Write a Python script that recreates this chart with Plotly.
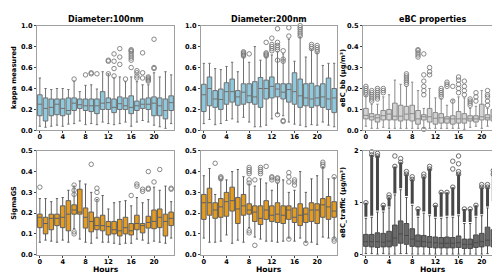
import plotly.graph_objects as go

hours = list(range(24))

# ---- Panel 1: kappa measured, Diameter 100nm ----
k100_q1 = [0.14,0.09,0.14,0.15,0.14,0.155,0.19,0.21,0.19,0.18,0.16,0.20,0.20,0.17,0.20,0.20,0.16,0.19,0.21,0.20,0.14,0.14,0.11,0.19]
k100_med = [0.25,0.21,0.22,0.25,0.21,0.19,0.26,0.245,0.235,0.235,0.235,0.26,0.265,0.22,0.255,0.235,0.22,0.235,0.25,0.25,0.26,0.235,0.19,0.265]
k100_q3 = [0.34,0.31,0.30,0.30,0.30,0.31,0.31,0.30,0.30,0.30,0.30,0.37,0.31,0.30,0.32,0.31,0.33,0.28,0.30,0.31,0.32,0.31,0.30,0.33]
k100_lo = [0.04,0.03,0.04,0.05,0.04,0.06,0.065,0.09,0.055,0.065,0.055,0.08,0.065,0.055,0.065,0.08,0.04,0.08,0.095,0.08,0.05,0.035,0.02,0.065]
k100_hi = [0.50,0.40,0.39,0.40,0.40,0.39,0.47,0.37,0.43,0.435,0.395,0.56,0.54,0.50,0.51,0.465,0.51,0.465,0.435,0.435,0.55,0.51,0.56,0.53]
k100_out = [[],[],[],[],[],[],[0.49],[],[0.53],[0.54,0.55],[0.54],[],
            [0.54,0.66,0.67],[0.52,0.59,0.66,0.73],[0.63,0.70,0.78],[0.49],
            [0.60,0.67,0.69,0.71,0.73,0.75,0.76,0.77],[0.50,0.52,0.55,0.57],[0.50,0.55,0.74],
            [0.47,0.48,0.49,0.50,0.51],[0.59,0.60,0.87],[],[],[]]

# ---- Panel 2: kappa measured, Diameter 200nm ----
k200_q1 = [0.18,0.235,0.22,0.20,0.25,0.27,0.24,0.25,0.265,0.25,0.22,0.30,0.31,0.32,0.30,0.27,0.25,0.22,0.235,0.22,0.235,0.22,0.20,0.17]
k200_med = [0.34,0.40,0.30,0.295,0.37,0.37,0.32,0.365,0.33,0.32,0.40,0.40,0.42,0.395,0.365,0.39,0.37,0.33,0.31,0.30,0.31,0.32,0.30,0.31]
k200_q3 = [0.44,0.51,0.38,0.395,0.455,0.49,0.38,0.445,0.445,0.465,0.505,0.48,0.51,0.445,0.445,0.445,0.55,0.49,0.445,0.45,0.425,0.445,0.50,0.40]
k200_lo = [0.065,0.105,0.055,0.065,0.095,0.11,0.08,0.125,0.08,0.035,0.035,0.05,0.11,0.16,0.14,0.08,0.06,0.05,0.035,0.055,0.05,0.08,0.05,0.035]
k200_hi = [0.64,0.64,0.59,0.58,0.61,0.65,0.56,0.70,0.65,0.80,0.67,0.70,0.72,0.75,0.73,0.87,0.66,0.89,0.70,0.77,0.74,0.62,0.64,0.64]
k200_out = [[],[],[],[],[],[],[],[0.71,0.72,0.73,0.74,0.75],[0.73],[],[],
            [0.71,0.72,0.73,0.74,0.84],[0.76,0.78,0.80,0.82,0.88],
            [0.15,0.67,0.77,0.79,0.81,0.84,0.97],[0.085,0.095,0.66,0.68,0.76],[0.90,0.98],
            [],[0.90,0.92,0.94,0.96,0.98,1.0],[],[0.78,0.80,0.82],[0.75,0.77,0.79,0.81],[],[],[]]

# ---- Panel 3: eBC_bb ----
bb_q1 = [0.055,0.05,0.04,0.05,0.05,0.05,0.045,0.05,0.045,0.03,0.05,0.04,0.03,0.035,0.035,0.03,0.035,0.035,0.045,0.04,0.05,0.05,0.045,0.05]
bb_med = [0.072,0.065,0.06,0.07,0.078,0.068,0.068,0.078,0.08,0.055,0.065,0.065,0.058,0.06,0.055,0.055,0.055,0.055,0.055,0.055,0.065,0.06,0.065,0.065]
bb_q3 = [0.105,0.08,0.075,0.095,0.10,0.13,0.12,0.115,0.12,0.095,0.075,0.105,0.085,0.08,0.065,0.07,0.09,0.08,0.07,0.07,0.125,0.075,0.10,0.095]
bb_lo = [0.02,0.01,0.01,0.015,0.01,0.01,0.01,0.01,0.01,0.01,0.01,0.01,0.01,0.01,0.01,0.01,0.01,0.005,0.015,0.02,0.01,0.02,0.01,0.01]
bb_hi = [0.165,0.125,0.125,0.16,0.17,0.24,0.22,0.21,0.23,0.19,0.105,0.20,0.155,0.15,0.12,0.145,0.16,0.155,0.105,0.115,0.19,0.105,0.175,0.155]
bb_out = [[0.17,0.18,0.19,0.20,0.21],[0.14,0.15,0.16,0.17,0.18,0.19],[0.15,0.16,0.17,0.18,0.19,0.20],
          [0.18,0.19,0.20],[],[],[],[0.22,0.23,0.24,0.25,0.26,0.27],[],[0.35,0.36,0.37,0.38,0.385],
          [0.005,0.17,0.19,0.21,0.235,0.265,0.365],[0.265,0.28,0.30],[],[0.16,0.17,0.18,0.19,0.20],
          [0.21,0.22,0.23],[0.14,0.21],[0.18,0.20,0.22,0.24,0.255],[0.17,0.19,0.21,0.235],
          [0.12,0.13,0.14,0.15],[0.14,0.16,0.18],[],[0.12,0.14,0.16,0.17,0.19],[],
          [0.16,0.17,0.18,0.19,0.20,0.21,0.22,0.23]]

# ---- Panel 4: SigmaGS, 100nm ----
s100_q1 = [0.13,0.10,0.12,0.14,0.13,0.115,0.195,0.195,0.128,0.11,0.12,0.115,0.095,0.10,0.09,0.10,0.095,0.12,0.105,0.128,0.125,0.13,0.09,0.14]
s100_med = [0.18,0.15,0.175,0.175,0.18,0.195,0.215,0.205,0.18,0.16,0.14,0.14,0.135,0.12,0.115,0.13,0.115,0.15,0.14,0.155,0.16,0.18,0.16,0.175]
s100_q3 = [0.195,0.18,0.195,0.195,0.235,0.26,0.24,0.315,0.225,0.205,0.18,0.19,0.16,0.16,0.17,0.18,0.15,0.19,0.15,0.185,0.215,0.22,0.195,0.205]
s100_lo = [0.06,0.07,0.065,0.06,0.07,0.06,0.125,0.075,0.06,0.055,0.08,0.06,0.06,0.055,0.05,0.055,0.055,0.075,0.07,0.055,0.065,0.06,0.055,0.08]
s100_hi = [0.27,0.27,0.255,0.27,0.275,0.31,0.33,0.355,0.34,0.30,0.265,0.285,0.22,0.25,0.255,0.26,0.235,0.275,0.25,0.265,0.325,0.31,0.33,0.255]
s100_out = [[0.325],[],[],[],[],[],[0.10,0.11,0.29,0.31,0.335],[],[],[0.435],[0.265,0.30,0.32],[],
            [],[],[],[],[0.285],[0.33,0.34],[0.305,0.315],[0.315,0.32,0.40],[0.35],[0.41],[],[0.315,0.32]]

# ---- Panel 5: SigmaGS, 200nm ----
s200_q1 = [0.17,0.19,0.175,0.18,0.185,0.21,0.15,0.19,0.195,0.16,0.145,0.17,0.16,0.155,0.15,0.17,0.155,0.14,0.155,0.16,0.15,0.18,0.17,0.18]
s200_med = [0.25,0.25,0.215,0.23,0.255,0.26,0.22,0.235,0.215,0.205,0.175,0.215,0.19,0.195,0.19,0.215,0.18,0.19,0.195,0.215,0.215,0.24,0.23,0.21]
s200_q3 = [0.29,0.32,0.25,0.27,0.30,0.325,0.275,0.29,0.245,0.235,0.235,0.26,0.235,0.25,0.235,0.235,0.225,0.245,0.225,0.25,0.245,0.27,0.28,0.255]
s200_lo = [0.08,0.06,0.06,0.065,0.095,0.055,0.07,0.06,0.13,0.085,0.075,0.065,0.065,0.06,0.065,0.08,0.065,0.08,0.06,0.06,0.05,0.085,0.08,0.08]
s200_hi = [0.38,0.415,0.29,0.36,0.36,0.40,0.41,0.375,0.34,0.33,0.365,0.345,0.31,0.345,0.36,0.30,0.31,0.40,0.30,0.365,0.38,0.42,0.365,0.37]
s200_out = [[],[],[0.44],[0.365,0.37,0.375],[],[],[],[],[0.105,0.115,0.345,0.36,0.39,0.40,0.41,0.42],
            [0.045,0.36],[0.39,0.40,0.41,0.42],[0.425],[0.36,0.37,0.375],[0.355,0.365,0.37],[],
            [0.075,0.35,0.375,0.395],[0.335,0.35,0.36],[],[0.055],[],[],[0.425,0.435,0.445],[],[0.065,0.075,0.375]]

# ---- Panel 6: eBC_traffic ----
tr_q1 = [0.16,0.15,0.14,0.15,0.15,0.17,0.22,0.20,0.16,0.15,0.15,0.14,0.13,0.13,0.13,0.13,0.14,0.12,0.12,0.14,0.15,0.17,0.15,0.16]
tr_med = [0.25,0.25,0.25,0.24,0.26,0.32,0.40,0.37,0.30,0.26,0.25,0.24,0.23,0.22,0.22,0.22,0.23,0.20,0.20,0.23,0.25,0.28,0.27,0.28]
tr_q3 = [0.39,0.39,0.42,0.41,0.45,0.57,0.65,0.60,0.50,0.38,0.37,0.35,0.34,0.33,0.34,0.33,0.36,0.30,0.30,0.38,0.41,0.53,0.48,0.42]
tr_lo = [0.02,0.02,0.01,0.02,0.01,0.01,0.02,0.02,0.01,0.01,0.01,0.01,0.01,0.01,0.01,0.01,0.01,0.01,0.01,0.01,0.01,0.02,0.01,0.01]
tr_hi = [0.70,0.72,0.82,0.82,0.90,1.15,1.25,1.10,0.95,0.72,0.80,0.75,0.70,0.70,0.72,0.72,0.75,0.60,0.60,0.72,0.75,0.90,1.00,0.82]
# dense outlier column: from just above upper whisker to this value
tr_dense_top = [1.00,1.92,1.90,0.95,1.10,1.70,1.78,1.55,1.45,0.88,1.50,1.65,0.95,1.20,1.20,1.30,1.55,0.88,0.88,0.95,1.30,1.30,1.55,1.45]
tr_out = [[],[1.98],[1.95],[],[1.15],[1.9],[1.85],[1.6],[1.5],[],[1.55],[1.7],[],[],[],[1.65,1.8],
          [1.6,1.75,1.9],[],[],[],[1.35],[1.35],[1.62],[1.45]]

titles = ["Diameter:100nm", "Diameter:200nm", "eBC properties"]
ytitles = ["kappa measured", "", "eBC_bb (μg/m³)", "SigmaGS", "", "eBC_traffic (μg/m³)"]
xtitle = "Hours"

W, H = 500, 273
FONT = "DejaVu Sans"

def xd(a, b):
    return [a / W, b / W]

def yd(top, bottom):
    return [1 - bottom / H, 1 - top / H]

xdoms = [xd(29, 166), xd(193, 329), xd(355, 494)]
ydoms = [yd(14, 122), yd(143, 250)]
ytitle_x = [6, None, 335]

fig = go.Figure()

def add_panel(i, q1, med, q3, lo, hi, out, fill, line, outc="#7a7a7a"):
    xa = "x" if i == 1 else f"x{i}"
    ya = "y" if i == 1 else f"y{i}"
    fig.add_trace(go.Box(x=hours, q1=q1, median=med, q3=q3, lowerfence=lo, upperfence=hi,
                         fillcolor=fill, line=dict(color=line, width=1), width=0.8,
                         whiskerwidth=0.5, boxpoints=False, xaxis=xa, yaxis=ya,
                         showlegend=False, hoverinfo="skip"))
    xs, ys = [], []
    for h, vals in zip(hours, out):
        for v in vals:
            xs.append(h)
            ys.append(v)
    if xs:
        fig.add_trace(go.Scatter(x=xs, y=ys, mode="markers", xaxis=xa, yaxis=ya,
                                 marker=dict(symbol="circle-open", size=4.5, color=outc,
                                             line=dict(width=0.9, color=outc)),
                                 showlegend=False, hoverinfo="skip", cliponaxis=False))

add_panel(1, k100_q1, k100_med, k100_q3, k100_lo, k100_hi, k100_out, "#8fc9de", "#707070")
add_panel(2, k200_q1, k200_med, k200_q3, k200_lo, k200_hi, k200_out, "#8fc9de", "#707070")
add_panel(3, bb_q1, bb_med, bb_q3, bb_lo, bb_hi, bb_out, "#d3d3d3", "#8a8a8a")
add_panel(4, s100_q1, s100_med, s100_q3, s100_lo, s100_hi, s100_out, "#e49b1f", "#5e5e5e")
add_panel(5, s200_q1, s200_med, s200_q3, s200_lo, s200_hi, s200_out, "#e49b1f", "#5e5e5e")

# panel 6: dense outlier columns drawn as segments, then boxes on top
dx, dy = [], []
for h, a, b in zip(hours, tr_hi, tr_dense_top):
    dx += [h, h, None]
    dy += [a + 0.03, b, None]
fig.add_trace(go.Scatter(x=dx, y=dy, mode="lines", xaxis="x6", yaxis="y6",
                         line=dict(color="#474747", width=3), showlegend=False, hoverinfo="skip"))
fig.add_trace(go.Scatter(x=hours, y=tr_dense_top, mode="markers", xaxis="x6", yaxis="y6",
                         marker=dict(symbol="circle-open", size=4.5, color="#555",
                                     line=dict(width=0.9, color="#555")),
                         showlegend=False, hoverinfo="skip"))
add_panel(6, tr_q1, tr_med, tr_q3, tr_lo, tr_hi, tr_out, "#696969", "#4a4a4a", outc="#606060")

yranges = [[0, 1.0], [0, 1.0], [0, 0.5], [0, 0.5], [0, 0.5], [0, 2.0]]
ytickvals = [[0, 0.2, 0.4, 0.6, 0.8, 1.0], [0, 0.2, 0.4, 0.6, 0.8, 1.0],
             [0, 0.1, 0.2, 0.3, 0.4, 0.5], [0, 0.1, 0.2, 0.3, 0.4, 0.5],
             [0, 0.1, 0.2, 0.3, 0.4, 0.5], [0, 1, 2]]
ytickfmt = [".1f", ".1f", ".1f", ".1f", ".1f", "d"]

tickfont = dict(family=FONT, size=6.6, color="black", weight="bold")
layout = dict(width=W, height=H, autosize=False, margin=dict(l=0, r=0, t=0, b=0),
              paper_bgcolor="white", plot_bgcolor="white", showlegend=False)

annots = []
for i in range(6):
    n = "" if i == 0 else str(i + 1)
    col = i % 3
    row = i // 3
    ax = dict(domain=xdoms[col], anchor="y" + n, range=[-0.5, 23.5],
              tickvals=[0, 4, 8, 12, 16, 20], showline=True, mirror=True,
              linecolor="#a0a0a0", linewidth=1, ticks="outside", ticklen=2,
              tickcolor="#444", tickwidth=1, showgrid=False, zeroline=False,
              tickfont=tickfont, ticklabelstandoff=-2)
    ayd = dict(domain=ydoms[row], anchor="x" + n, range=yranges[i], tickvals=ytickvals[i],
               tickformat=ytickfmt[i], showline=True, mirror=True, linecolor="#a0a0a0",
               linewidth=1, ticks="outside", ticklen=2, tickcolor="#444", tickwidth=1,
               showgrid=False, zeroline=False, tickfont=tickfont)
    layout["xaxis" + n] = ax
    layout["yaxis" + n] = ayd
    if ytitles[i]:
        annots.append(dict(text=ytitles[i], x=ytitle_x[col] / W, y=sum(ydoms[row]) / 2,
                           xref="paper", yref="paper", xanchor="center", yanchor="middle",
                           textangle=-90, showarrow=False,
                           font=dict(family=FONT, size=6.7, color="black", weight="bold")))
    if row == 1:
        annots.append(dict(text=xtitle, x=sum(xdoms[col]) / 2, y=1 - 265.5 / H,
                           xref="paper", yref="paper", xanchor="center", yanchor="middle",
                           showarrow=False, borderpad=0,
                           font=dict(family=FONT, size=7.6, color="black", weight="bold")))

for col, t in enumerate(titles):
    annots.append(dict(text=t, x=sum(xdoms[col]) / 2, y=ydoms[0][1],
                       xref="paper", yref="paper", xanchor="center", yanchor="bottom",
                       yshift=0, showarrow=False,
                       font=dict(family=FONT, size=8, color="black", weight="bold")))
layout["annotations"] = annots
fig.update_layout(**layout)
fig.write_html("out.html")
